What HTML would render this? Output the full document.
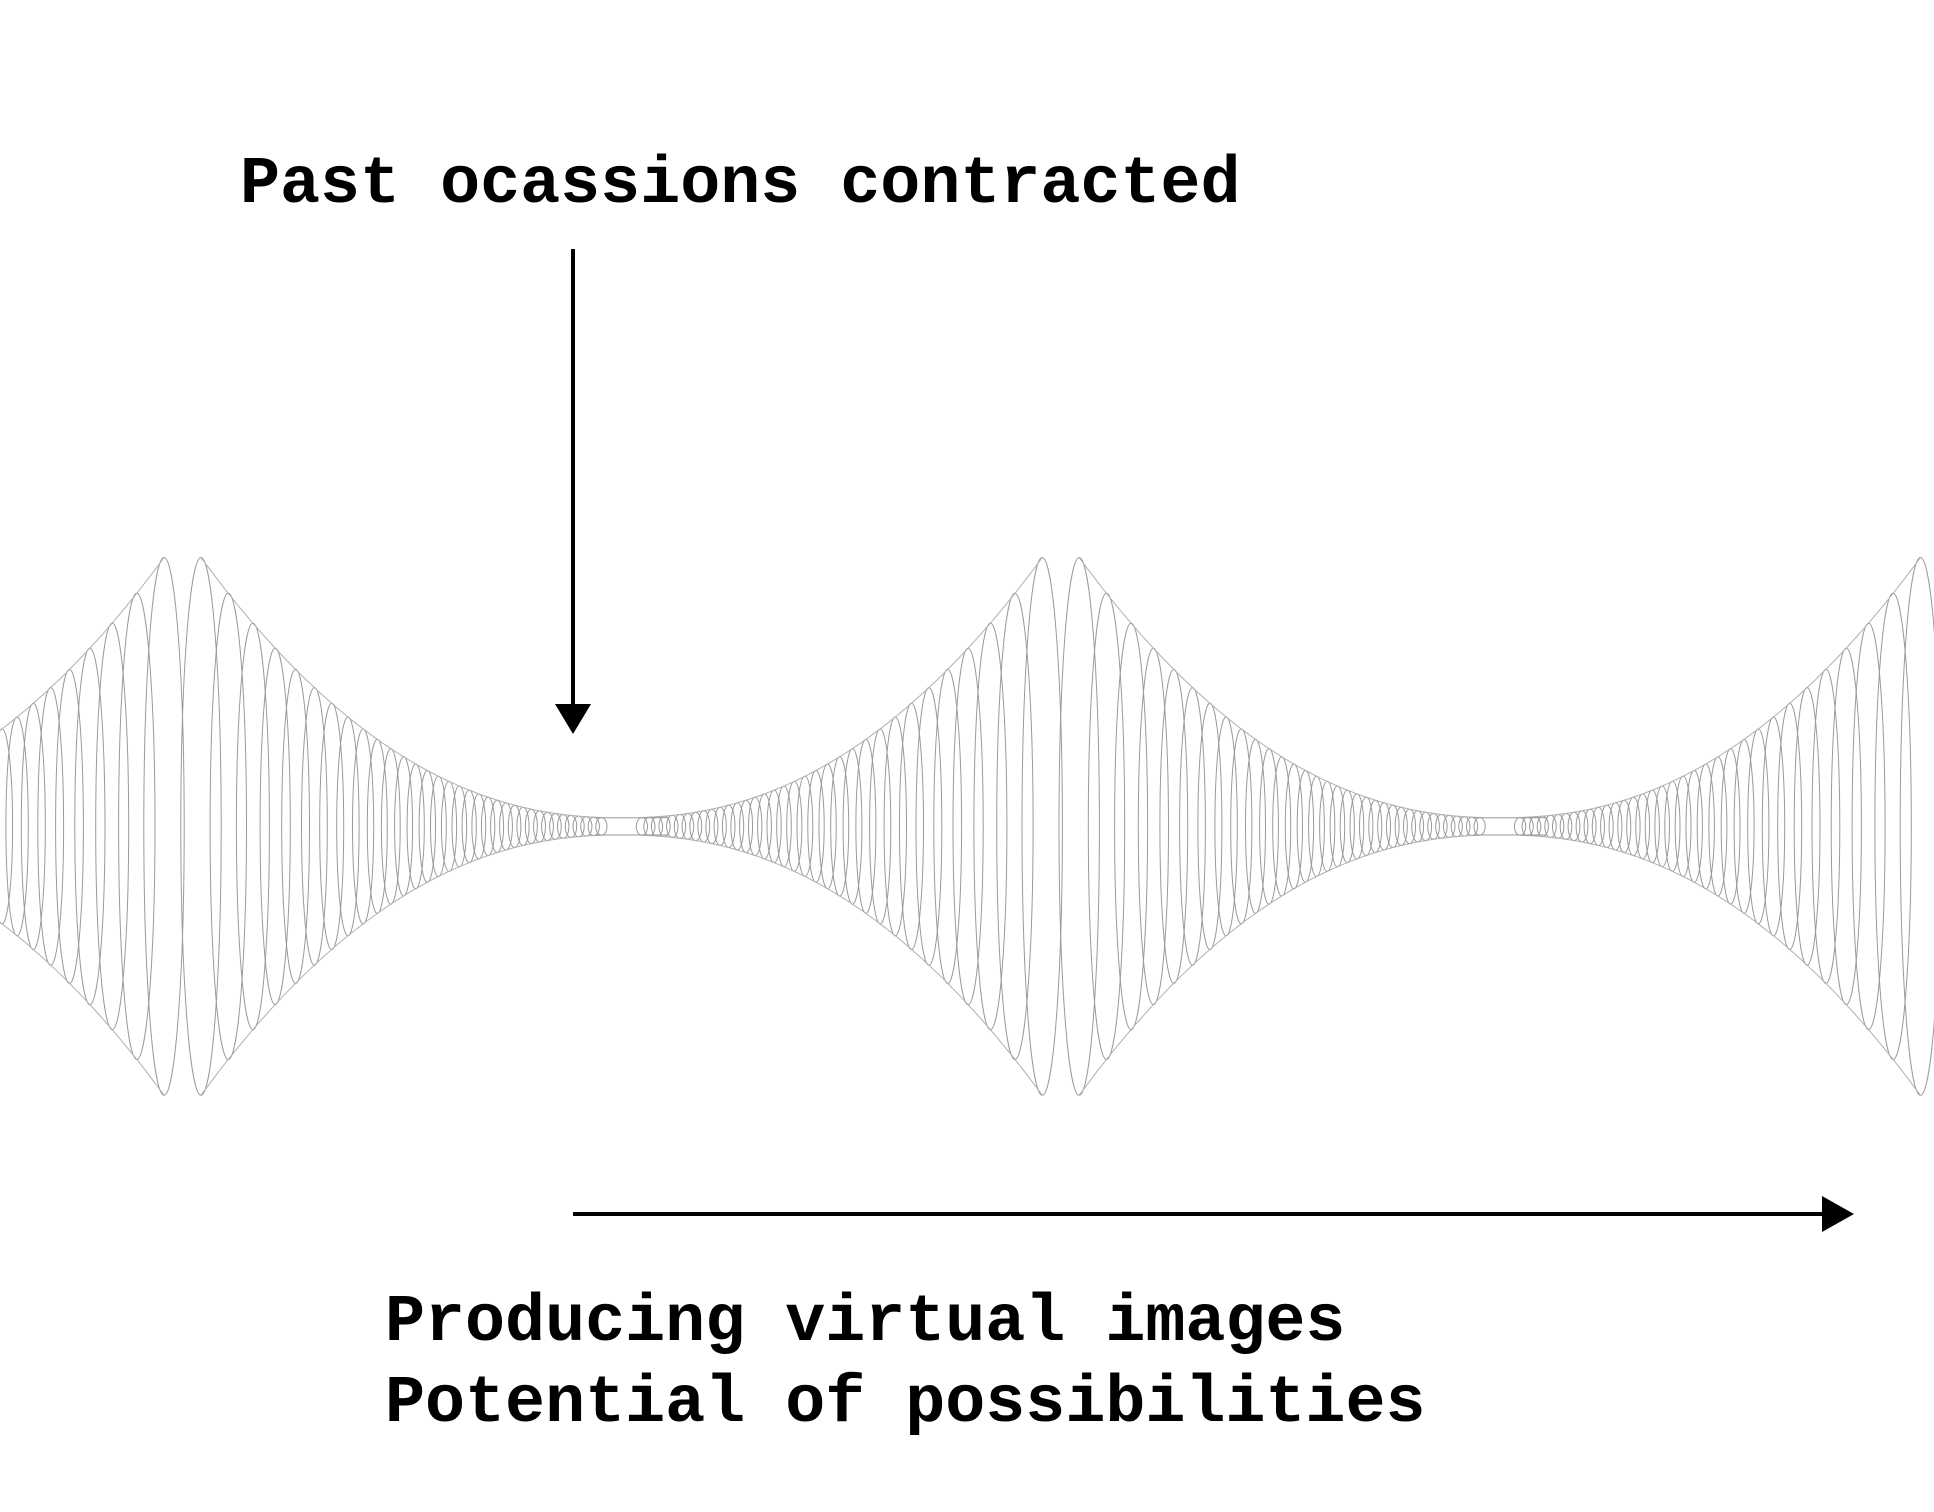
<!DOCTYPE html>
<html><head><meta charset="utf-8"><style>
html,body{margin:0;padding:0;background:#fff;}
body{width:1934px;height:1512px;overflow:hidden;position:relative;}
.t{position:absolute;font-family:"Liberation Mono",monospace;font-weight:bold;font-size:66.7px;color:#000;white-space:pre;line-height:1;}
</style></head><body>
<svg id="s" width="1934" height="1512" style="position:absolute;left:0;top:0">
<g id="w" fill="none" stroke="#9a9a9a" stroke-width="1"></g>
<line x1="573" y1="249" x2="573" y2="706" stroke="#000" stroke-width="4"/>
<polygon points="555,704 591,704 573,734" fill="#000"/>
<line x1="573" y1="1214" x2="1828" y2="1214" stroke="#000" stroke-width="4"/>
<polygon points="1822,1196 1822,1232 1854,1214" fill="#000"/>
</svg>
<div class="t" style="left:240px;top:152px">Past ocassions contracted</div>
<div class="t" style="left:385px;top:1290px">Producing virtual images</div>
<div class="t" style="left:385px;top:1371px">Potential of possibilities</div>
<script>
var g=document.getElementById('w'),S=1.2334,cy=670,out='';
function el(x,ry,rx){out+='<ellipse cx="'+(x*S).toFixed(1)+'" cy="'+(cy*S).toFixed(1)+'" rx="'+(rx*S).toFixed(1)+'" ry="'+(ry*S).toFixed(1)+'"/>';}
function H(d){var u=Math.max(0,1-d/355);return 7+232*Math.pow(u,2.2);}
[148,860,1572].forEach(function(p){
 [-1,1].forEach(function(sg){
  var d=15;
  while(d<345){var h=H(d);var rx=4.5+12*(h-7)/213;el(p+sg*d,h,rx);d+=rx*1.35;}
  [-1,1].forEach(function(v){
   var pts=[];for(var dd=15;dd<=340;dd+=5){pts.push(((p+sg*dd)*S).toFixed(1)+','+((cy+v*H(dd))*S).toFixed(1));}
   out+='<polyline stroke="#b0b0b0" points="'+pts.join(' ')+'"/>';
  });
 });
});
[512,1224].forEach(function(q){
 out+='<line x1="'+((q-30)*S)+'" y1="'+((cy-7)*S)+'" x2="'+((q+30)*S)+'" y2="'+((cy-7)*S)+'"/>';
 out+='<line x1="'+((q-30)*S)+'" y1="'+((cy+7)*S)+'" x2="'+((q+30)*S)+'" y2="'+((cy+7)*S)+'"/>';
});
g.innerHTML=out;
</script>
</body></html>
